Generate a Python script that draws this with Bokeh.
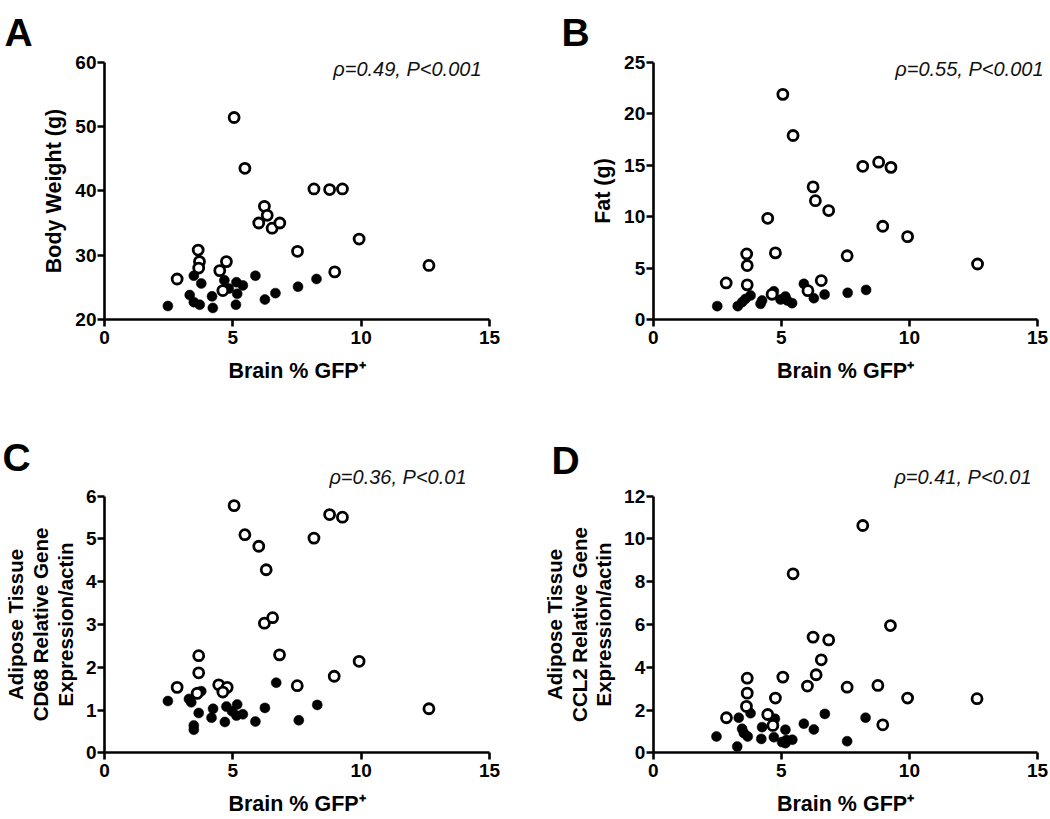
from bokeh.plotting import figure
from bokeh.models import Range1d, FixedTicker, Label, LinearAxis
from bokeh.layouts import column, row
from bokeh.embed import file_html
from bokeh.resources import INLINE

FONT = "Liberation Sans"

x_ticks = [0, 5, 10, 15]
x_label = "Brain % GFP\u207a"

# Panel A: Body weight
a_open_x = [2.83, 3.65, 3.70, 3.67, 4.49, 4.75, 4.61, 5.05, 5.47, 6.01, 6.23, 6.34, 6.53, 6.83, 7.52, 8.16, 8.77, 9.27, 8.97, 9.92, 12.64]
a_open_y = [26.3, 30.8, 29.0, 28.0, 27.6, 29.0, 24.5, 51.4, 43.5, 35.0, 37.6, 36.2, 34.2, 35.0, 30.6, 40.3, 40.2, 40.3, 27.4, 32.5, 28.4]
a_closed_x = [2.47, 3.32, 3.48, 3.71, 3.48, 3.77, 4.19, 4.22, 4.67, 4.84, 5.14, 5.39, 5.17, 5.12, 5.88, 6.25, 6.66, 7.54, 8.26]
a_closed_y = [22.1, 23.8, 22.7, 22.3, 26.8, 25.6, 23.6, 21.8, 26.1, 24.8, 25.8, 25.3, 24.0, 22.3, 26.8, 23.1, 24.1, 25.1, 26.3]

# Panel B: Fat
b_open_x = [2.85, 3.65, 3.67, 3.67, 4.47, 4.77, 4.64, 5.06, 5.46, 6.04, 6.24, 6.33, 6.56, 6.85, 7.57, 8.18, 8.80, 9.28, 8.96, 9.93, 12.66]
b_open_y = [3.56, 6.38, 5.25, 3.37, 9.84, 6.48, 2.45, 21.9, 17.9, 2.8, 12.9, 11.56, 3.79, 10.6, 6.2, 14.9, 15.3, 14.8, 9.07, 8.06, 5.4]
b_closed_x = [2.50, 3.30, 3.47, 3.60, 3.80, 4.19, 4.25, 4.71, 4.97, 5.16, 5.23, 5.42, 5.88, 6.27, 6.69, 7.59, 8.31]
b_closed_y = [1.30, 1.30, 1.68, 2.0, 2.33, 1.52, 1.85, 2.75, 1.94, 2.23, 1.85, 1.59, 3.47, 2.07, 2.43, 2.59, 2.88]

# Panel C: CD68
c_open_x = [2.83, 3.67, 3.67, 3.61, 4.45, 4.78, 4.61, 5.05, 5.47, 6.01, 6.30, 6.23, 6.55, 6.82, 7.51, 8.16, 8.77, 9.27, 8.95, 9.92, 12.64]
c_open_y = [1.53, 2.27, 1.87, 1.39, 1.59, 1.53, 1.42, 5.78, 5.10, 4.83, 4.28, 3.03, 3.16, 2.29, 1.57, 5.02, 5.57, 5.51, 1.79, 2.14, 1.03]
c_closed_x = [2.47, 3.29, 3.38, 3.64, 3.77, 3.67, 3.48, 3.48, 4.23, 4.17, 4.69, 4.75, 5.17, 4.97, 5.14, 5.39, 5.88, 6.25, 6.69, 7.57, 8.29]
c_closed_y = [1.21, 1.26, 1.18, 1.42, 1.44, 0.93, 0.64, 0.54, 1.03, 0.82, 0.72, 1.08, 1.13, 0.97, 0.87, 0.90, 0.73, 1.05, 1.64, 0.76, 1.12]

# Panel D: CCL2
d_open_x = [2.86, 3.64, 3.67, 3.67, 4.47, 4.67, 4.77, 5.06, 5.46, 6.02, 6.24, 6.36, 6.56, 6.85, 7.57, 8.18, 8.77, 9.26, 8.96, 9.93, 12.64]
d_open_y = [1.64, 2.17, 2.79, 3.49, 1.79, 1.28, 2.56, 3.54, 8.37, 3.12, 5.41, 3.65, 4.35, 5.28, 3.07, 10.63, 3.15, 5.95, 1.31, 2.56, 2.53]
d_closed_x = [2.47, 3.28, 3.34, 3.47, 3.54, 3.69, 3.80, 4.22, 4.25, 4.71, 4.75, 5.16, 5.03, 5.16, 5.43, 5.20, 5.88, 6.27, 6.70, 7.57, 8.29]
d_closed_y = [0.76, 0.29, 1.64, 1.12, 0.92, 0.76, 1.85, 0.65, 1.20, 0.73, 1.59, 1.08, 0.50, 0.45, 0.61, 0.60, 1.36, 1.09, 1.82, 0.54, 1.64]


def style_axis(ax, ticks, label_size):
    ax.ticker = FixedTicker(ticks=ticks)
    ax.axis_line_width = 2.6
    ax.axis_line_color = "black"
    ax.major_tick_line_width = 2.6
    ax.major_tick_line_color = "black"
    ax.major_tick_out = 7
    ax.major_tick_in = 0
    ax.minor_tick_line_color = None
    ax.major_label_text_font = FONT
    ax.major_label_text_font_style = "bold"
    ax.major_label_text_font_size = "19px"
    ax.major_label_text_color = "black"
    ax.axis_label_text_font = FONT
    ax.axis_label_text_font_style = "bold"
    ax.axis_label_text_font_size = label_size
    ax.axis_label_text_color = "black"
    ax.axis_label_text_line_height = 1.08


def panel(letter, ylab, ylab_size, ymin, ymax, yticks, stat, ox, oy, cx, cy,
          W, H, L, R, T, B, stat_px, let_px):
    # frame fills the whole figure; axes are pinned at x=0 and y=ymin
    kx = (R - L) / 15.0
    ky = (B - T) / float(ymax - ymin)
    fx = lambda px: (px - L) / kx
    fy = lambda py: ymin + (B - py) / ky
    p = figure(width=W, height=H, output_backend="svg", toolbar_location=None,
               x_range=Range1d(fx(0), fx(W)), y_range=Range1d(fy(H), fy(0)),
               x_axis_location=None, y_axis_location=None, min_border=0)
    p.outline_line_color = None
    p.grid.visible = False
    p.background_fill_color = "white"
    p.border_fill_color = "white"

    xa = LinearAxis(fixed_location=ymin, bounds=(0, 15), axis_label=x_label)
    style_axis(xa, x_ticks, "21.5px")
    xa.major_label_standoff = 4
    xa.axis_label_standoff = 12
    ya = LinearAxis(fixed_location=0, bounds=(ymin, ymax), axis_label=ylab)
    style_axis(ya, yticks, ylab_size)
    ya.major_label_standoff = 1
    ya.axis_label_standoff = 6
    p.add_layout(xa, "below")
    p.add_layout(ya, "left")

    p.scatter(cx, cy, size=10, marker="circle", fill_color="black", line_color="black", line_width=0.5)
    p.scatter(ox, oy, size=10, marker="circle", fill_color="white", line_color="black", line_width=2.8)

    p.add_layout(Label(x=fx(stat_px[0]), y=fy(stat_px[1]), text=stat, text_font=FONT,
                       text_font_style="italic", text_font_size="20px", text_align="right",
                       text_baseline="middle", text_color="#111111"))
    p.add_layout(Label(x=fx(let_px[0]), y=fy(let_px[1]), text=letter, text_font=FONT,
                       text_font_style="bold", text_font_size="39px", text_align="left",
                       text_baseline="alphabetic", text_color="black"))
    return p


pa = panel("A", "Body Weight (g)", "21.5px", 20, 60, [20, 30, 40, 50, 60], "\u03c1=0.49, P<0.001",
           a_open_x, a_open_y, a_closed_x, a_closed_y,
           525, 410, 104, 489, 61.7, 319, (481, 68), (4, 32))
pb = panel("B", "Fat (g)", "21.5px", 0, 25, [0, 5, 10, 15, 20, 25], "\u03c1=0.55, P<0.001",
           b_open_x, b_open_y, b_closed_x, b_closed_y,
           525, 410, 127.7, 512, 62, 319, (518, 68), (36, 32))
pc = panel("C", "Adipose Tissue\nCD68 Relative Gene\nExpression/actin", "20.5px", 0, 6, [0, 1, 2, 3, 4, 5, 6],
           "\u03c1=0.36, P<0.01",
           c_open_x, c_open_y, c_closed_x, c_closed_y,
           525, 408, 104, 489, 85.7, 342.3, (466, 66.7), (2, 47))
pd_ = panel("D", "Adipose Tissue\nCCL2 Relative Gene\nExpression/actin", "20.5px", 0, 12, [0, 2, 4, 6, 8, 10, 12],
            "\u03c1=0.41, P<0.01",
            d_open_x, d_open_y, d_closed_x, d_closed_y,
            525, 408, 127.7, 512, 85.7, 342.3, (506, 66.7), (26, 50))

layout = column(row(pa, pb), row(pc, pd_))
open("out.html", "w").write(file_html(layout, INLINE))
